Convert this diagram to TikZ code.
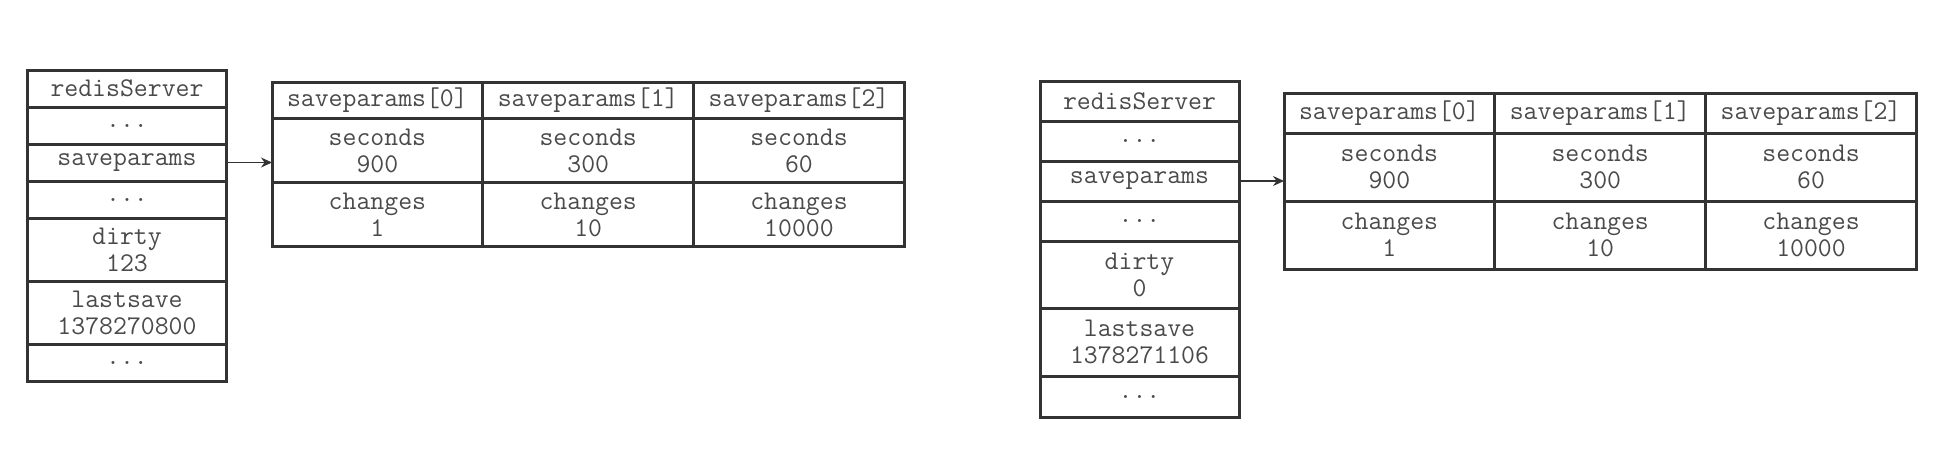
\documentclass[tikz,border=0pt]{standalone}
\usepackage{fontspec}
\usetikzlibrary{positioning,arrows.meta}

\definecolor{rline}{HTML}{333333}
\definecolor{rtext}{HTML}{4a4a4a}

\tikzset{
  cell/.style={draw=rline,line width=1.5pt,inner sep=0pt,outer sep=0pt,
    align=center,text=rtext,font=\ttfamily\fontsize{13.5}{13.5}\selectfont},
  srv/.style={cell,minimum width=99.5pt,minimum height=#1},
  slot/.style={cell,minimum width=105.4pt,minimum height=#1},
  ptr/.style={rline,line width=0.6pt,-{Stealth[length=5.5pt,width=5pt]}}
}

\begin{document}
\begin{tikzpicture}[x=0.5pt,y=-0.5pt]
\useasboundingbox[fill=white] (0,0) rectangle (1960,450);

% left: server state before the save
\node[srv=18.5pt,anchor=north west] (a0) at (27.5,70) {redisServer};
\node[srv=18.5pt,below=0pt of a0] (a1) {...};
\node[srv=18.5pt,below=0pt of a1] (a2) {saveparams};
\node[srv=18.5pt,below=0pt of a2] (a3) {...};
\node[srv=31.5pt,below=0pt of a3] (a4) {dirty\\123};
\node[srv=31.5pt,below=0pt of a4] (a5) {lastsave\\1378270800};
\node[srv=18.5pt,below=0pt of a5] (a6) {...};

\node[slot=18.3pt,anchor=north west] (ah0) at (272,82) {saveparams[0]};
\node[slot=18.3pt,right=0pt of ah0] (ah1) {saveparams[1]};
\node[slot=18.3pt,right=0pt of ah1] (ah2) {saveparams[2]};
\node[slot=32pt,below=0pt of ah0] (as0) {seconds\\900};
\node[slot=32pt,below=0pt of ah1] (as1) {seconds\\300};
\node[slot=32pt,below=0pt of ah2] (as2) {seconds\\60};
\node[slot=32pt,below=0pt of as0] (ac0) {changes\\1};
\node[slot=32pt,below=0pt of as1] (ac1) {changes\\10};
\node[slot=32pt,below=0pt of as2] (ac2) {changes\\10000};

\draw[ptr] (a2.east) -- (a2.east -| ah0.west);

% right: server state after the save
\node[srv=20pt,anchor=north west] (b0) at (1040,81) {redisServer};
\node[srv=20pt,below=0pt of b0] (b1) {...};
\node[srv=20pt,below=0pt of b1] (b2) {saveparams};
\node[srv=20pt,below=0pt of b2] (b3) {...};
\node[srv=33.75pt,below=0pt of b3] (b4) {dirty\\0};
\node[srv=33.75pt,below=0pt of b4] (b5) {lastsave\\1378271106};
\node[srv=20.5pt,below=0pt of b5] (b6) {...};

\node[slot=20pt,anchor=north west] (bh0) at (1284,93) {saveparams[0]};
\node[slot=20pt,right=0pt of bh0] (bh1) {saveparams[1]};
\node[slot=20pt,right=0pt of bh1] (bh2) {saveparams[2]};
\node[slot=34pt,below=0pt of bh0] (bs0) {seconds\\900};
\node[slot=34pt,below=0pt of bh1] (bs1) {seconds\\300};
\node[slot=34pt,below=0pt of bh2] (bs2) {seconds\\60};
\node[slot=34pt,below=0pt of bs0] (bc0) {changes\\1};
\node[slot=34pt,below=0pt of bs1] (bc1) {changes\\10};
\node[slot=34pt,below=0pt of bs2] (bc2) {changes\\10000};

\draw[ptr] (b2.east) -- (b2.east -| bh0.west);
\end{tikzpicture}
\end{document}
